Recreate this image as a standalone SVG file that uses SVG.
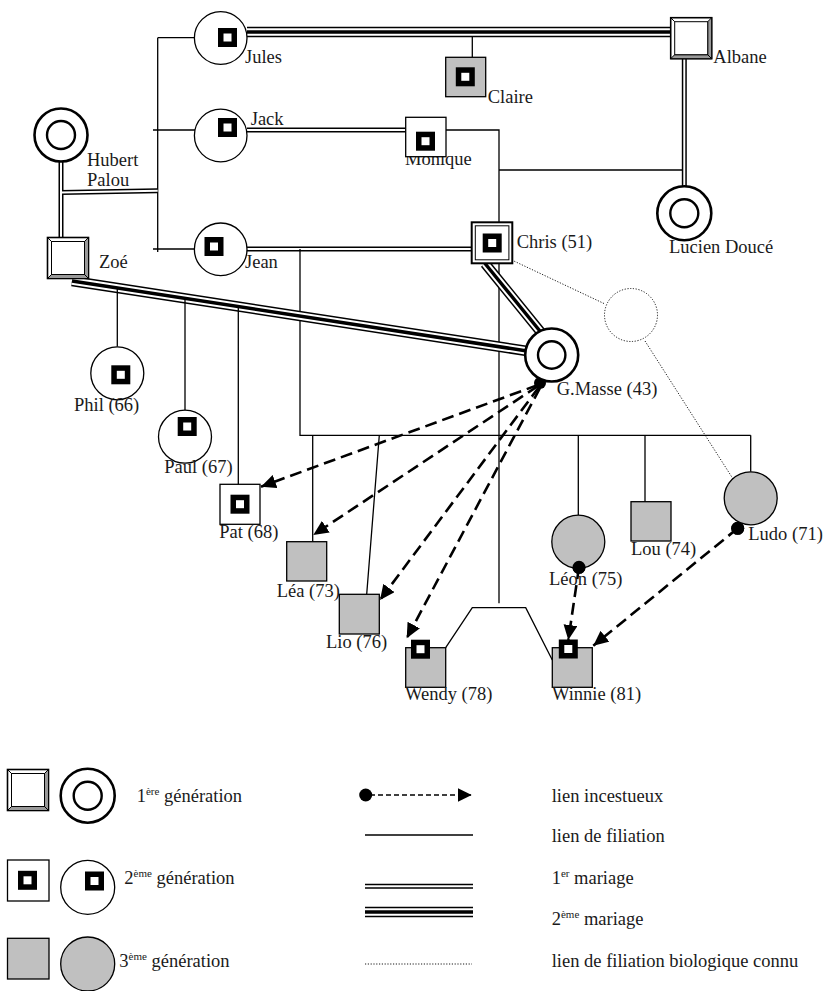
<svg xmlns="http://www.w3.org/2000/svg" xmlns:xlink="http://www.w3.org/1999/xlink" width="826" height="991" viewBox="0 0 826 991">
<style>
text{font-family:"Liberation Serif","Times New Roman",serif;font-size:18.5px;fill:#1a1a1a}
.sup{font-size:11px}
.fil{stroke:#000;stroke-width:1.3;fill:none}
.m1a{stroke:#000;stroke-width:5;fill:none}
.m1b{stroke:#fff;stroke-width:2;fill:none}
.m2a{stroke:#000;stroke-width:10.5;fill:none}
.m2b{stroke:#fff;stroke-width:7.5;fill:none}
.m2c{stroke:#000;stroke-width:3.5;fill:none}
.inc{stroke:#000;stroke-width:2.6;fill:none;stroke-dasharray:12 6;marker-end:url(#ah)}
.bio{stroke:#000;stroke-width:0.9;fill:none;stroke-dasharray:1.2 1.6}
.c2{fill:#fff;stroke:#000;stroke-width:1.3}
.c3{fill:#c0c0c0;stroke:#000;stroke-width:1.3}
.c1o{fill:#fff;stroke:#000;stroke-width:2.6}
.c1i{fill:none;stroke:#000;stroke-width:2.4}
.dot{fill:#000}
</style>
<defs>
<marker id="ah" markerUnits="userSpaceOnUse" markerWidth="16" markerHeight="14" refX="15" refY="7" orient="auto">
<path d="M0,0 L15,7 L0,14 z" fill="#000"/>
</marker>
<marker id="ahs" markerUnits="userSpaceOnUse" markerWidth="15" markerHeight="14" refX="14" refY="7" orient="auto">
<path d="M0,0 L14,7 L0,14 z" fill="#000"/>
</marker>
<g id="mk"><rect x="-6.75" y="-6.75" width="13.5" height="13.5" fill="#fff" stroke="#000" stroke-width="5.5"/></g>
<g id="bev">
<rect x="0" y="0" width="41" height="41" fill="#fff" stroke="#000" stroke-width="1.6"/>
<path d="M41,0 L37,4 L37,37 L41,41 z" fill="#999" stroke="#000" stroke-width="1"/>
<path d="M0,41 L4,37 L37,37 L41,41 z" fill="#999" stroke="#000" stroke-width="1"/>
<rect x="4" y="4" width="33" height="33" fill="#fff" stroke="#000" stroke-width="1"/>
<path d="M0,0 L4,4" stroke="#000" stroke-width="1"/>
</g>
</defs>
<rect width="826" height="991" fill="#fff"/>

<g id="connectors">
<!-- sibling bracket of Hubert/Zoé children -->
<path class="fil" d="M157.7,37.7 L157.7,252 M157.7,37.7 L195,37.7 M153,130 L195,130 M153,249 L195,249"/>
<!-- Hubert - Zoé marriage and link to children -->
<path class="m1a" d="M61,161 L61,238 M61,192.5 L157.7,190.8"/>
<path class="m1b" d="M61,161 L61,238 M61,192.5 L157.7,190.8"/>
<!-- Jules - Albane 2nd marriage -->
<path class="m2a" d="M247,32 L671,32"/>
<path class="m2b" d="M247,32 L671,32"/>
<path class="m2c" d="M247,32 L671,32"/>
<path class="fil" d="M472.3,36 L472.3,57.3"/>
<!-- Jack - Monique -->
<path class="m1a" d="M247,130 L405.7,130"/>
<path class="m1b" d="M247,130 L405.7,130"/>
<!-- Monique line to Chris and Albane line -->
<path class="fil" d="M446,130 L499,130 L499,603.3 M499,170 L684.3,170"/>
<!-- Albane - Lucien -->
<path class="m1a" d="M684.3,58.3 L684.3,186"/>
<path class="m1b" d="M684.3,58.3 L684.3,186"/>
<!-- Jean - Chris -->
<path class="m1a" d="M247,249 L471.7,249"/>
<path class="m1b" d="M247,249 L471.7,249"/>
<path class="fil" d="M300,249 L300,435.3 L750.7,435.3 M750.7,435.3 L750.7,471.7 M578.3,435.3 L578.3,515 M645,435.3 L645,501.7 M312.7,435.3 L312.7,541.7 M379.3,435.3 L366.7,594.3"/>
<!-- Zoé - Masse 2nd marriage -->
<path class="m2a" d="M72,281 L527,351"/>
<path class="m2b" d="M72,281 L527,351"/>
<path class="m2c" d="M72,281 L527,351"/>
<path class="fil" d="M117.3,288 L117.3,346.7 M185,298.6 L185,420 M238.3,306.9 L238.3,500"/>
<!-- Chris - Masse 2nd marriage -->
<path class="m2a" d="M485,263.5 L541.5,333"/>
<path class="m2b" d="M485,263.5 L541.5,333"/>
<path class="m2c" d="M485,263.5 L541.5,333"/>
<!-- twins -->
<path class="fil" d="M445.7,647.7 L472.3,607.7 L525.7,607.7 L552.3,660"/>
<!-- biological links -->
<path class="bio" d="M511.7,260 L605,304 M645,341 L735,482"/>
<!-- incest links -->
<path class="inc" d="M538,385 L261,486.7"/>
<path class="inc" d="M538,386 L313.3,535"/>
<path class="inc" d="M539,387 L380,600"/>
<path class="inc" d="M540,388 L406.7,638.3"/>
<path class="inc" d="M579,567.3 L568.3,640"/>
<path class="inc" d="M737.7,528.3 L593.3,645.7"/>
<circle class="dot" cx="540" cy="383" r="6"/>
<circle class="dot" cx="579" cy="567.3" r="6.5"/>
<circle class="dot" cx="737.7" cy="528.3" r="6.5"/>
</g>

<g id="hubert"><circle class="c1o" cx="61" cy="135" r="26.5"/><circle class="c1i" cx="61" cy="135" r="14"/><text x="87" y="166">Hubert</text><text x="87" y="186">Palou</text></g>
<g id="zoe"><use xlink:href="#bev" x="47.5" y="237.5"/><text x="99" y="268">Zoé</text></g>
<g id="albane"><use xlink:href="#bev" x="670.7" y="17.7"/><text x="713.3" y="62.7">Albane</text></g>
<g id="lucien"><circle class="c1o" cx="684.3" cy="213.3" r="27"/><circle class="c1i" cx="684.3" cy="213.3" r="14"/><text x="669" y="253">Lucien Doucé</text></g>
<g id="masse"><circle class="c1o" cx="551.7" cy="355" r="26.5"/><circle class="c1i" cx="551.7" cy="355" r="13.7"/><text x="556.7" y="395">G.Masse (43)</text></g>
<g id="jules"><circle class="c2" cx="220.7" cy="38" r="26.3"/><use xlink:href="#mk" x="227.5" y="37.5"/><text x="245" y="63">Jules</text></g>
<g id="jack"><circle class="c2" cx="220.7" cy="135.5" r="26.3"/><use xlink:href="#mk" x="227.5" y="127.5"/><text x="250.7" y="125">Jack</text></g>
<g id="jean"><circle class="c2" cx="220.7" cy="249.3" r="26.3"/><use xlink:href="#mk" x="214" y="246.5"/><text x="245" y="268">Jean</text></g>
<g id="claire"><rect class="c3" x="445.7" y="57.3" width="40" height="39.4"/><use xlink:href="#mk" x="465.3" y="76.8"/><text x="487.7" y="103">Claire</text></g>
<g id="monique"><text x="405" y="165">Monique</text><rect class="c2" x="405.7" y="117.3" width="40.3" height="39.4"/><use xlink:href="#mk" x="425.5" y="141.2"/></g>
<g id="chris"><rect x="471.7" y="222.3" width="40.6" height="41" fill="#fff" stroke="#000" stroke-width="2"/><rect x="475.3" y="225.8" width="33.6" height="34" fill="none" stroke="#000" stroke-width="1"/><use xlink:href="#mk" x="492.2" y="243"/><text x="516.7" y="248.3">Chris (51)</text></g>
<g id="unknown"><circle cx="631" cy="315" r="26.5" fill="none" stroke="#000" stroke-width="0.9" stroke-dasharray="1.2 1.6"/></g>
<g id="phil"><circle class="c2" cx="117.3" cy="373.3" r="26.5"/><use xlink:href="#mk" x="120.8" y="374.8"/><text x="74" y="411">Phil (66)</text></g>
<g id="paul"><circle class="c2" cx="185" cy="436.7" r="26.5"/><use xlink:href="#mk" x="187.2" y="426.5"/><text x="164.3" y="473.3">Paul (67)</text></g>
<g id="pat"><rect class="c2" x="220" y="484.3" width="40" height="40"/><use xlink:href="#mk" x="240" y="504.2"/><text x="219.3" y="538.3">Pat (68)</text></g>
<g id="lea"><rect class="c3" x="286.7" y="541.7" width="40" height="39.3"/><text x="276.7" y="596.7">Léa (73)</text></g>
<g id="lio"><rect class="c3" x="339.3" y="594.3" width="40" height="39.7"/><text x="326" y="648.3">Lio (76)</text></g>
<g id="wendy"><rect class="c3" x="405.7" y="647.7" width="40" height="39.6"/><use xlink:href="#mk" x="420.5" y="649.2"/><text x="405" y="700">Wendy (78)</text></g>
<g id="winnie"><rect class="c3" x="552.3" y="647.7" width="40" height="39.6"/><use xlink:href="#mk" x="568.3" y="649"/><text x="552" y="700">Winnie (81)</text></g>
<g id="leon"><circle class="c3" cx="578.3" cy="541.7" r="26.5"/><text x="549" y="585">Léon (75)</text><circle class="dot" cx="579" cy="567.3" r="6.5"/></g>
<g id="lou"><rect class="c3" x="631" y="501.7" width="40" height="39.3"/><text x="631" y="555">Lou (74)</text></g>
<g id="ludo"><circle class="c3" cx="750.7" cy="498.3" r="26.5"/><circle class="dot" cx="737.7" cy="528.3" r="6.5"/><text x="748.3" y="540">Ludo (71)</text></g>

<g id="legend">
<use xlink:href="#bev" x="7.5" y="769.5"/>
<circle class="c1o" cx="87.7" cy="795.7" r="27"/><circle class="c1i" cx="87.7" cy="795.7" r="14"/>
<text x="136.7" y="801.7">1<tspan class="sup" dy="-7">ère</tspan><tspan dy="7"> génération</tspan></text>
<rect class="c2" x="7.5" y="860" width="41.5" height="41"/><use xlink:href="#mk" x="27.5" y="880.3"/>
<circle class="c2" cx="87.7" cy="887.3" r="27"/><use xlink:href="#mk" x="94.5" y="881"/>
<text x="124.3" y="884.3">2<tspan class="sup" dy="-7">ème</tspan><tspan dy="7"> génération</tspan></text>
<rect class="c3" x="7.5" y="938.3" width="41.5" height="40.7"/>
<circle class="c3" cx="87.7" cy="964" r="27"/>
<text x="119.3" y="966.7">3<tspan class="sup" dy="-7">ème</tspan><tspan dy="7"> génération</tspan></text>
<circle class="dot" cx="365.7" cy="795" r="6.5"/>
<path d="M370,795 L471.7,795" stroke="#000" stroke-width="1.6" fill="none" stroke-dasharray="5 3" marker-end="url(#ahs)"/>
<path class="fil" d="M365,835 L473,835"/>
<path class="m1a" d="M365,886.3 L473,886.3"/><path class="m1b" d="M365,886.3 L473,886.3"/>
<path class="m2a" d="M365,912 L473,912"/><path class="m2b" d="M365,912 L473,912"/><path class="m2c" d="M365,912 L473,912"/>
<path class="bio" d="M365,964 L472,964"/>
<text x="551.7" y="801.7">lien incestueux</text>
<text x="551.7" y="841.7">lien de filiation</text>
<text x="551.7" y="884">1<tspan class="sup" dy="-7">er</tspan><tspan dy="7"> mariage</tspan></text>
<text x="551.7" y="925">2<tspan class="sup" dy="-7">ème</tspan><tspan dy="7"> mariage</tspan></text>
<text x="551.7" y="966.7">lien de filiation biologique connu</text>
</g>
</svg>
